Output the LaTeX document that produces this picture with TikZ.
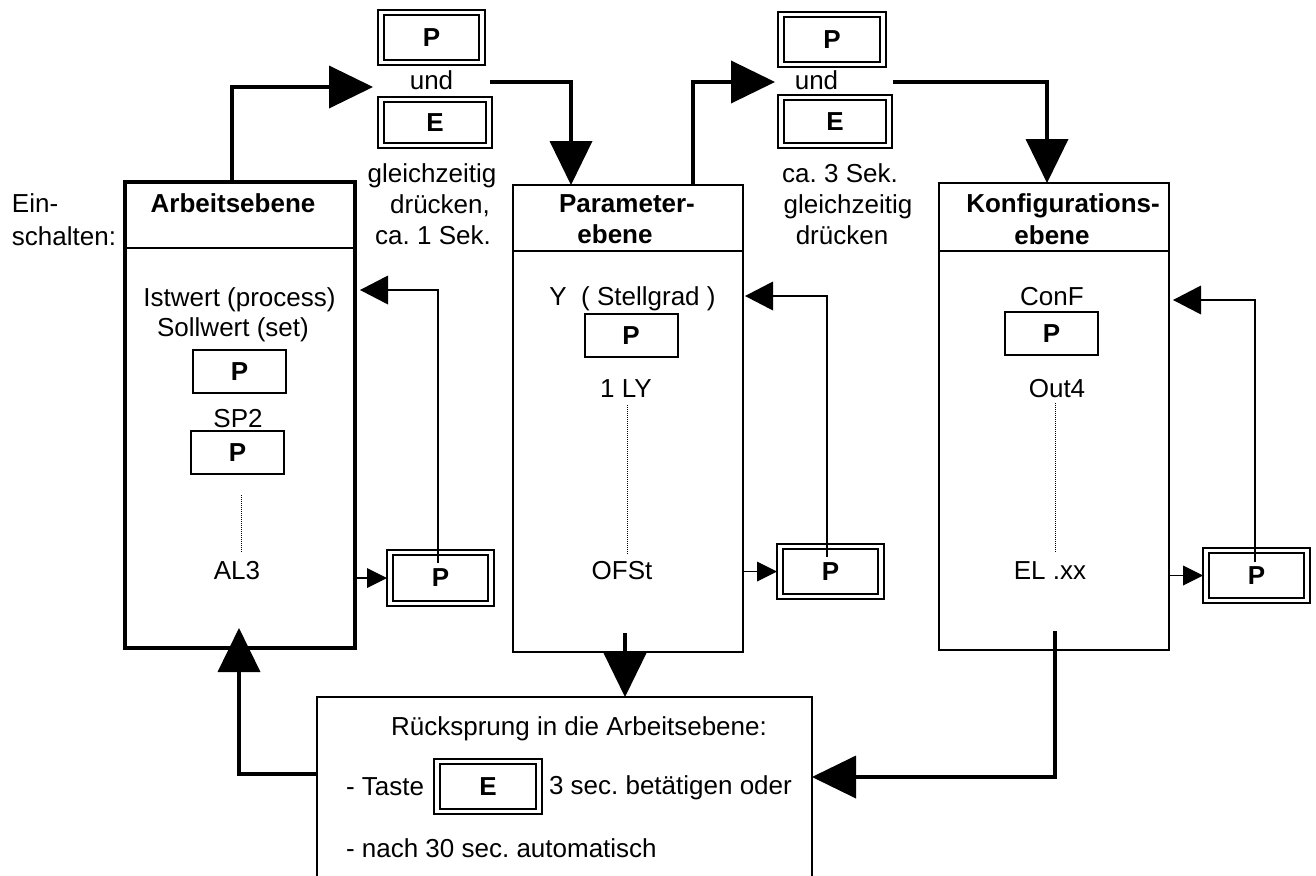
\documentclass[tikz,border=0pt]{standalone}
\usepackage{fontspec}
\setmainfont{Liberation Sans}
\usetikzlibrary{arrows.meta}
\frenchspacing
\begin{document}
\begin{tikzpicture}[x=1pt,y=-1pt,font=\fontsize{26}{31}\selectfont,
  every node/.style={inner sep=0pt,outer sep=0pt},
  bld/.style={font=\fontsize{26}{31}\selectfont\bfseries},
  lvl/.style={draw,line width=2.2pt,minimum width=230pt,minimum height=467pt},
  sepline/.style={line width=2pt},
  key/.style={draw,line width=2pt,minimum width=93pt,minimum height=43pt,bld},
  dkey/.style={draw,line width=1.3pt,bld,
    path picture={\draw[line width=2.5pt]
      ([shift={(6pt,-5pt)}]path picture bounding box.north west) rectangle
      ([shift={(-6pt,5pt)}]path picture bounding box.south east);}},
  txt/.style={anchor=base},
  txtl/.style={anchor=base west},
  big/.style={line width=4pt,-{Triangle[length=44pt,width=43pt,line width=0pt]}},
  ret/.style={line width=1.6pt,-{Triangle[length=28pt,width=29pt,line width=0pt]}},
  sm/.style={line width=1.6pt,-{Triangle[length=20pt,width=20pt,line width=0pt]}},
  dots/.style={line width=1pt,dash pattern=on 1pt off 1pt}]
\useasboundingbox (0,0) rectangle (1316,875);

% level boxes
\node[lvl,line width=4.5pt,minimum height=466pt] (arb) at (240,415) {};
\node[lvl] (par) at (628,418.5) {};
\node[lvl] (kon) at (1054,416.5) {};
\draw[sepline] ([yshift=-66pt]arb.north west) -- ([yshift=-66pt]arb.north east);
\draw[sepline] ([yshift=-66pt]par.north west) -- ([yshift=-66pt]par.north east);
\draw[sepline] ([yshift=-68pt]kon.north west) -- ([yshift=-68pt]kon.north east);

% return box (open at the bottom edge of the picture)
\node[minimum width=495pt,minimum height=180pt] (rue) at (564.5,787) {};
\draw[line width=1.6pt] (rue.south west) -- (rue.north west) -- (rue.north east) -- (rue.south east);

% headings
\node[txtl] (ein1) at (12,212) {Ein-};
\node[txtl] (ein2) at (12,245) {schalten:};
\node[txt,bld] (harb) at (233,212) {Arbeitsebene};
\node[txt,bld] (hpar1) at (627,212) {Parameter-};
\node[txt,bld] (hpar2) at (615,243) {ebene};
\node[txt,bld] (hkon1) at (1063,212) {Konfigurations-};
\node[txt,bld] (hkon2) at (1052,244) {ebene};

% top key groups
\node[dkey,minimum width=107pt,minimum height=55pt] (p1) at (431.5,37.5) {P};
\node[txt] (und1) at (431.5,89) {und};
\node[dkey,minimum width=114pt,minimum height=51pt] (e1) at (435,122.5) {E};
\node[txt] (g1a) at (432,182) {gleichzeitig};
\node[txt] (g1b) at (440,213) {drücken,};
\node[txt] (g1c) at (433,244) {ca. 1 Sek.};

\node[dkey,minimum width=108pt,minimum height=55pt] (p2) at (832,39.5) {P};
\node[txt] (und2) at (816.5,89) {und};
\node[dkey,minimum width=114pt,minimum height=53pt] (e2) at (835,121.5) {E};
\node[txt] (g2a) at (840,182) {ca. 3 Sek.};
\node[txt] (g2b) at (848,213) {gleichzeitig};
\node[txt] (g2c) at (842,244) {drücken};

% Arbeitsebene contents
\node[txt] (a1) at (239.5,306) {Istwert (process)};
\node[txt] (a2) at (233,336) {Sollwert (set)};
\node[key] (ka1) at (239.5,371.5) {P};
\node[txt] (a3) at (238,427) {SP2};
\node[key] (ka2) at (237.5,452.5) {P};
\draw[dots] (241,495) -- (241,552);
\node[txt] (a4) at (237,579) {AL3};
\node[dkey,minimum width=107pt,minimum height=56pt] (da) at (440.5,578) {P};

% Parameterebene contents
\node[txt] (pt1) at (632.5,305) {Y\ \ ( Stellgrad )};
\node[key] (kp1) at (631,335.5) {P};
\node[txt] (pt2) at (626,397) {1 LY};
\draw[dots] (627,405) -- (627,555);
\node[txt] (pt3) at (622,579) {OFSt};
\node[dkey,minimum width=107pt,minimum height=55pt] (dp) at (830.5,571.5) {P};

% Konfigurationsebene contents
\node[txt] (kt1) at (1052,305) {ConF};
\node[key] (kk1) at (1051.5,333.5) {P};
\node[txt] (kt2) at (1057,397) {Out4};
\draw[dots] (1055,403) -- (1055,553);
\node[txt] (kt3) at (1050,579) {EL .xx};
\node[dkey,minimum width=107pt,minimum height=55pt] (dk) at (1256.5,575.5) {P};

% Ruecksprung contents
\node[txt] (r1) at (579,735) {Rücksprung in die Arbeitsebene:};
\node[txtl] (r2) at (346,795) {- Taste};
\node[dkey,minimum width=108pt,minimum height=55pt] (e3) at (488,786.5) {E};
\node[txtl] (r3) at (549,794) {3 sec. betätigen oder};
\node[txtl] (r4) at (346,857) {- nach 30 sec. automatisch};

% main connectors
\coordinate (c1) at (373,87);
\coordinate (c2) at (490,82);
\coordinate (c3) at (775,82);
\coordinate (c4) at (893,82);
\draw[big] ([xshift=-8pt]arb.north) |- (c1);
\draw[big] (c2) -| ([xshift=-57pt]par.north);
\draw[big] ([xshift=65pt]par.north) |- (c3);
\draw[big] (c4) -| ([xshift=-7pt]kon.north);
\coordinate (p5) at ([xshift=-3pt]par.south);
\draw[big] ([yshift=19pt]p5) -- (p5 |- rue.north);
\draw[big] ([shift={(1,-19)}]kon.south) |- ([yshift=10pt]rue.east);
\draw[big] ([yshift=13pt]rue.west) -| ([shift={(-1,-20)}]arb.south);

% loops back with P
\draw[sm] (arb.east |- da.west) -- (da.west);
\draw[sm] (par.east |- dp.west) -- (dp.west);
\draw[sm] (kon.east |- dk.west) -- (dk.west);
\draw[ret] ([shift={(-2.5,13)}]da.north) |- ([shift={(5,-125)}]arb.east);
\draw[ret] ([shift={(-3.5,13)}]dp.north) |- ([shift={(2,-122.5)}]par.east);
\draw[ret] ([shift={(-1.5,14)}]dk.north) |- ([shift={(4,-116.5)}]kon.east);
\end{tikzpicture}
\end{document}
